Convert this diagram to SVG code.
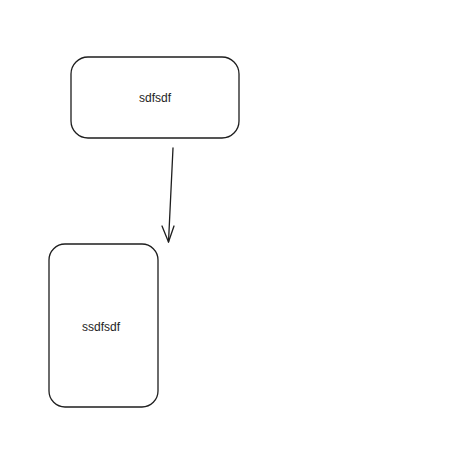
<svg xmlns="http://www.w3.org/2000/svg" width="455" height="470" viewBox="0 0 455 470">
<style>
.box{fill:none;stroke:#1e1e1e;stroke-width:1.3}
.lbl{font-family:"Liberation Sans",Arial,sans-serif;font-size:12px;fill:#1e1e1e;text-anchor:middle;dominant-baseline:central}
.conn{fill:none;stroke:#1e1e1e;stroke-width:1.3;stroke-linecap:round;stroke-linejoin:round}
</style>
<rect width="455" height="470" fill="#ffffff"/>
<g id="node-top">
<rect class="box" x="71" y="57" width="168" height="81" rx="17"/>
<text class="lbl" x="155" y="98">sdfsdf</text>
</g>
<g id="node-bottom">
<rect class="box" x="49" y="244" width="109" height="163" rx="16"/>
<text class="lbl" x="101" y="327">ssdfsdf</text>
</g>
<g id="connectors">
<path class="conn" d="M173 148 L168.5 242"/>
<path class="conn" d="M162 226 L168.5 242 L174 226"/>
</g>
</svg>
